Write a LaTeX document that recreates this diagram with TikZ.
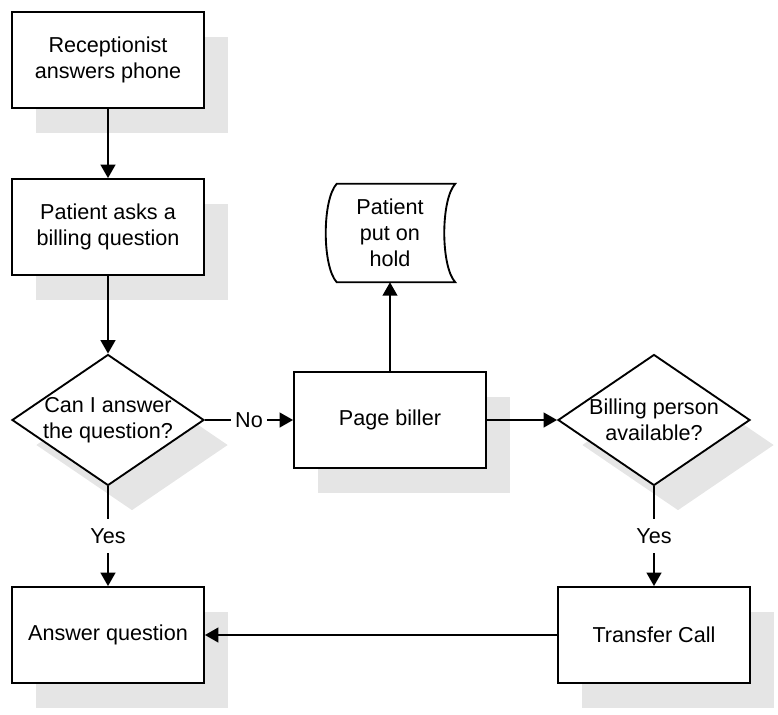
\documentclass[tikz,border=0pt]{standalone}
\usepackage{fontspec}
\setmainfont{Liberation Sans}
\usetikzlibrary{arrows.meta,shapes.geometric,shadows}
\definecolor{shadegray}{RGB}{229,229,229}
\begin{document}
\begin{tikzpicture}[x=0.75pt,y=-0.75pt,
  every node/.style={font=\fontsize{16.2}{19.3}\selectfont},
  boxshadow/.style={drop shadow={shadow xshift=18pt,shadow yshift=-18.75pt,fill=shadegray,opacity=1}},
  procbox/.style={draw,line width=1.4pt,fill=white,align=center,minimum width=144pt,minimum height=72pt,inner sep=0pt,boxshadow},
  decision/.style={diamond,draw,line width=1.4pt,fill=white,align=center,aspect=1.4656,minimum width=144pt,minimum height=98.25pt,inner sep=-1pt,boxshadow},
  storedata/.style={align=center,minimum width=97.5pt,minimum height=73.5pt,inner sep=0pt},
  flow/.style={line width=1.4pt,-{Triangle[length=10pt,width=11pt]}},
  tag/.style={fill=white,inner xsep=3pt,inner ysep=7pt}
]
\useasboundingbox (0,0) rectangle (778,714);

% process steps and decisions
\node[procbox] (rec) at (108,60) {Receptionist\\answers phone};
\node[procbox] (ask) at (108,227) {Patient asks a\\billing question};
\node[decision] (q1) at (108,420) {Can I answer\\the question?};
\node[procbox] (page) at (390,420) {Page biller};
\node[decision] (q2) at (654,420) {Billing person\\available?};
\node[procbox] (ans) at (108,635) {Answer question};
\node[procbox] (trans) at (654,635) {Transfer Call};

% stored-data symbol: both sides curved the same way
\node[storedata] (hold) at (390,233) {Patient\\put on\\hold};
\draw[line width=1.4pt] ([xshift=9pt]hold.north west) -- (hold.north east)
  .. controls ([xshift=-11pt,yshift=-12pt]hold.north east)
  and ([xshift=-11pt,yshift=12pt]hold.south east) .. (hold.south east)
  -- ([xshift=9pt]hold.south west)
  .. controls ([xshift=-2pt,yshift=12pt]hold.south west)
  and ([xshift=-2pt,yshift=-12pt]hold.north west) .. ([xshift=9pt]hold.north west)
  -- cycle;

% connectors
\draw[flow] (rec) -- (ask);
\draw[flow] (ask) -- (q1);
\draw[flow] (q1.east) -- node[tag]{No} (page.west);
\draw[flow] (page.north) -- (hold.south);
\draw[flow] (page.east) -- (q2.west);
\draw[flow] (q1.south) -- node[tag]{Yes} (ans.north);
\draw[flow] (q2.south) -- node[tag]{Yes} (trans.north);
\draw[flow] (trans.west) -- (ans.east);
\end{tikzpicture}
\end{document}
